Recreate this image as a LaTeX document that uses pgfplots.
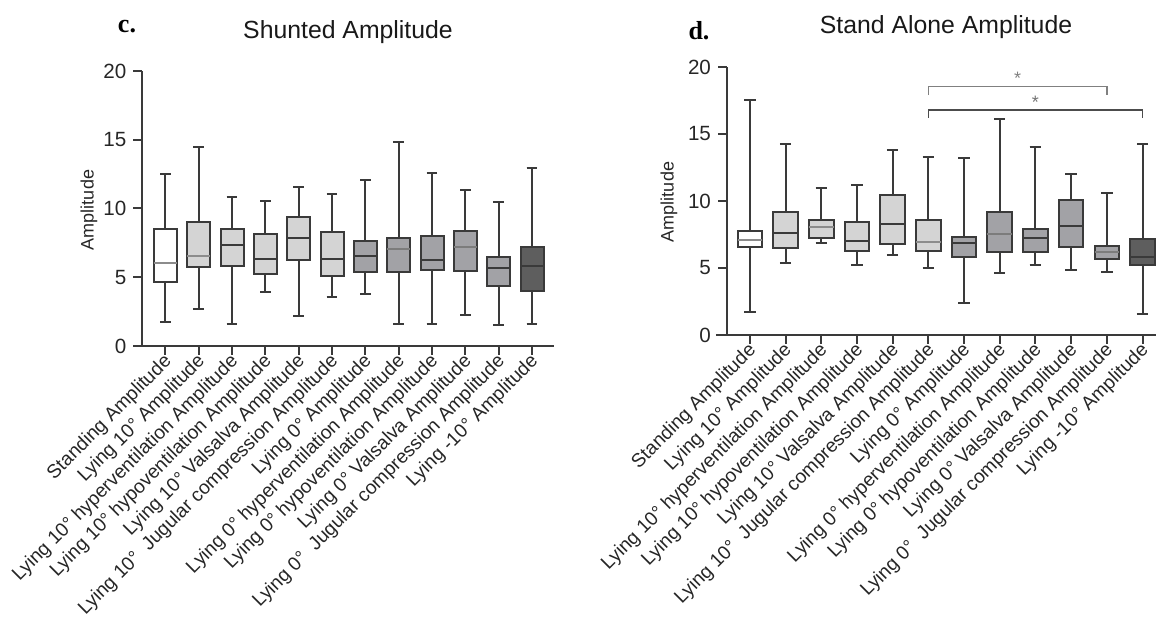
\documentclass[border=0pt]{standalone}
\usepackage{fontspec}
\setmainfont{Liberation Sans}
\newfontfamily\serifbf{Liberation Serif}
\usepackage{pgfplots}
\pgfplotsset{compat=1.18}
\usepgfplotslibrary{statistics}

\definecolor{lc}{HTML}{3A3A3A}
\definecolor{wbox}{HTML}{FFFFFF}
\definecolor{lbox}{HTML}{D4D4D4}
\definecolor{mbox}{HTML}{A2A2A6}
\definecolor{dbox}{HTML}{5E5E5E}
\definecolor{medl}{HTML}{8C8C8C}

% position, lower whisker, Q1, median, Q3, upper whisker, fill, median colour
\newcommand{\bx}[8]{%
  \addplot[boxplot prepared={draw position=#1, lower whisker=#2,
      lower quartile=#3, median=#4, upper quartile=#5, upper whisker=#6,
      box extend=0.69, whisker extend=0.32, draw direction=y,
      every median/.style={draw=#8}},
    draw=lc, fill=#7, line width=1pt] coordinates {};}

\pgfplotsset{
  panel/.style={
    scale only axis,
    axis lines=left,
    axis line style={draw=lc, line width=1pt, -},
    ymin=0, ymax=20,
    ytick={0,5,10,15,20},
    xtick={0,...,11},
    tick align=outside,
    major tick length=4.5pt,
    every tick/.style={draw=lc, line width=1pt},
    /pgf/number format/assume math mode=true,
    yticklabel style={font=\fontsize{10.3}{12}\selectfont, text=black!85},
    xticklabel style={rotate=45, anchor=east, inner sep=1pt, yshift=-2.5pt, xshift=1pt,
      font=\fontsize{9.6}{11}\selectfont, text=black!85},
    xticklabels={{Standing Amplitude},{Lying 10° Amplitude},
      {Lying 10° hyperventilation Amplitude},{Lying 10° hypoventilation Amplitude},
      {Lying 10° Valsalva Amplitude},{Lying 10°\ \ Jugular compression Amplitude},
      {Lying 0° Amplitude},{Lying 0° hyperventilation Amplitude},
      {Lying 0° hypoventilation Amplitude},{Lying 0° Valsalva Amplitude},
      {Lying 0°\ \ Jugular compression Amplitude},{Lying -10° Amplitude}},
    clip=false,
  },
}

\begin{document}
\begin{tikzpicture}
\useasboundingbox (0,0) rectangle (578pt,309.5pt);

% c. Shunted Amplitude
\begin{axis}[panel, at={(71.2pt,136.5pt)}, anchor=south west,
  width=205.8pt, height=137.5pt, xmin=-0.69, xmax=11.66]
\draw[lc, line width=1pt] (axis cs:-0.94,0) -- (axis cs:-0.69,0);
\bx{0}{1.72}{4.64}{6.07}{8.54}{12.50}{wbox}{medl}
\bx{1}{2.67}{5.75}{6.58}{9.03}{14.47}{lbox}{medl}
\bx{2}{1.60}{5.83}{7.33}{8.50}{10.87}{lbox}{lc}
\bx{3}{3.93}{5.22}{6.31}{8.11}{10.56}{lbox}{lc}
\bx{4}{2.21}{6.24}{7.89}{9.39}{11.55}{lbox}{lc}
\bx{5}{3.59}{5.10}{6.36}{8.28}{11.02}{lbox}{lc}
\bx{6}{3.81}{5.41}{6.53}{7.67}{12.09}{mbox}{lc}
\bx{7}{1.60}{5.41}{7.06}{7.86}{14.85}{mbox}{medl!80!lc}
\bx{8}{1.60}{5.51}{6.24}{8.03}{12.57}{mbox}{lc}
\bx{9}{2.28}{5.46}{7.18}{8.37}{11.31}{mbox}{medl!80!lc}
\bx{10}{1.55}{4.37}{5.66}{6.46}{10.44}{mbox}{lc}
\bx{11}{1.60}{3.98}{5.83}{7.21}{12.96}{dbox}{lc}
\end{axis}

% d. Stand Alone Amplitude
\begin{axis}[panel, at={(363.5pt,142pt)}, anchor=south west,
  width=214.9pt, height=134pt, xmin=-0.64, xmax=11.4]
\draw[lc, line width=1pt] (axis cs:-0.95,0) -- (axis cs:-0.64,0);
\bx{0}{1.74}{6.58}{7.08}{7.78}{17.57}{wbox}{medl}
\bx{1}{5.37}{6.46}{7.58}{9.17}{14.24}{lbox}{lc}
\bx{2}{6.83}{7.23}{8.05}{8.60}{10.96}{lbox}{medl}
\bx{3}{5.24}{6.24}{6.98}{8.45}{11.16}{lbox}{lc}
\bx{4}{5.96}{6.81}{8.30}{10.43}{13.84}{lbox}{lc}
\bx{5}{4.99}{6.29}{6.91}{8.57}{13.27}{lbox}{medl}
\bx{6}{2.36}{5.81}{6.88}{7.35}{13.22}{mbox}{lc}
\bx{7}{4.65}{6.21}{7.50}{9.17}{16.15}{mbox}{medl!80!lc}
\bx{8}{5.24}{6.21}{7.25}{7.88}{14.04}{mbox}{lc}
\bx{9}{4.87}{6.56}{8.12}{10.11}{11.98}{mbox}{lc}
\bx{10}{4.72}{5.69}{6.21}{6.61}{10.56}{mbox}{medl!80!lc}
\bx{11}{1.57}{5.24}{5.79}{7.20}{14.24}{dbox}{lc}
% significance brackets
\draw[black!50, line width=0.8pt] (axis cs:5,17.9) |- (axis cs:10,18.53) -- (axis cs:10,17.9);
\node[text=black!50, font=\fontsize{9}{9}\selectfont] at (axis cs:7.5,19.15) {*};
\draw[black!70, line width=0.8pt] (axis cs:5,16.2) |- (axis cs:11,16.79) -- (axis cs:11,16.2);
\node[text=black!55, font=\fontsize{9}{9}\selectfont] at (axis cs:8,17.38) {*};
\end{axis}

% titles and labels
\node[font=\fontsize{13}{15}\selectfont\serifbf\bfseries] at (63.5pt,296pt) {c.};
\node[font=\fontsize{12.4}{14}\selectfont, text=black!90] at (174pt,293.5pt) {Shunted Amplitude};
\node[rotate=90, font=\fontsize{9}{11}\selectfont, text=black!85] at (44.5pt,204.5pt) {Amplitude};
\node[font=\fontsize{13}{15}\selectfont\serifbf\bfseries] at (349.5pt,294pt) {d.};
\node[font=\fontsize{12.4}{14}\selectfont, text=black!90] at (473pt,296pt) {Stand Alone Amplitude};
\node[rotate=90, font=\fontsize{9}{11}\selectfont, text=black!85] at (334.5pt,208.5pt) {Amplitude};
\end{tikzpicture}
\end{document}
